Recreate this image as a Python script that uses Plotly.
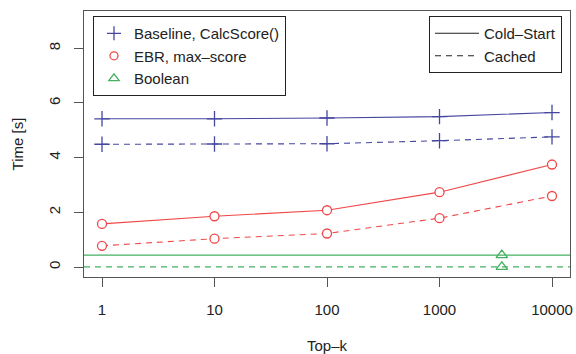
import plotly.graph_objects as go

topk = [1, 10, 100, 1000, 10000]
tick_labels = ["1", "10", "100", "1000", "10000"]
y_ticks = [0, 2, 4, 6, 8]

baseline_cold = [5.42, 5.42, 5.45, 5.50, 5.65]
baseline_cached = [4.49, 4.50, 4.51, 4.62, 4.76]
ebr_cold = [1.58, 1.86, 2.08, 2.74, 3.75]
ebr_cached = [0.78, 1.04, 1.23, 1.79, 2.60]
boolean_k = [3580, 3580]
boolean_vals = [0.44, 0.01]  # cold-start, cached

BLUE = "#4646a0"
RED = "#f04848"
GREEN = "#44b060"
FONT = "Liberation Sans, Arial, Helvetica, sans-serif"
FS = 15
DASH = "6px,5px"

fig = go.Figure()

def series(y, color, symbol, dash, size):
    fill = "white" if symbol != "cross-thin-open" else color
    fig.add_trace(go.Scatter(
        x=topk, y=y, mode="lines+markers", showlegend=False,
        line=dict(color=color, width=1.1, dash=dash),
        marker=dict(symbol=symbol, size=size, color=fill,
                    line=dict(color=color, width=1.3)),
        hoverinfo="skip"))

series(baseline_cold, BLUE, "cross-thin-open", "solid", 11)
series(baseline_cached, BLUE, "cross-thin-open", DASH, 11)
series(ebr_cold, RED, "circle", "solid", 9)
series(ebr_cached, RED, "circle", DASH, 9)

# Boolean: horizontal reference lines across the whole plot plus points
for val, dash in zip(boolean_vals, ["solid", DASH]):
    fig.add_shape(type="line", xref="paper", x0=0, x1=1, yref="y", y0=val, y1=val,
                  line=dict(color=GREEN, width=1.1, dash=dash), layer="below")
fig.add_trace(go.Scatter(
    x=boolean_k, y=boolean_vals, mode="markers", showlegend=False,
    marker=dict(symbol="triangle-up-open", size=10, color=GREEN,
                line=dict(color=GREEN, width=1.3)),
    hoverinfo="skip"))

# Legend 1: algorithms (markers only)
for name, color, sym, size in [("Baseline, CalcScore()", BLUE, "cross-thin-open", 10),
                               ("EBR, max\u2013score", RED, "circle-open", 8),
                               ("Boolean", GREEN, "triangle-up-open", 9)]:
    fig.add_trace(go.Scatter(
        x=[None], y=[None], mode="markers", name=name, legend="legend",
        marker=dict(symbol=sym, size=size, color=color, line=dict(color=color, width=1.3))))

# Legend 2: line styles
for name, dash in [("Cold\u2013Start", "solid"), ("Cached", DASH)]:
    fig.add_trace(go.Scatter(
        x=[None], y=[None], mode="lines", name=name, legend="legend2",
        line=dict(color="#222222", width=1.1, dash=dash)))

axis_common = dict(
    showgrid=False, zeroline=False, showline=True, mirror=True, automargin=False,
    linecolor="#555555", linewidth=1.2, ticks="outside", ticklen=9,
    tickcolor="#555555", tickwidth=1.2,
    tickfont=dict(family=FONT, size=FS, color="#222222"),
)

fig.update_layout(
    width=576, height=354,
    margin=dict(l=84, r=6, t=11, b=77),
    plot_bgcolor="white", paper_bgcolor="white",
    font=dict(family=FONT, size=FS, color="#222222"),
    xaxis=dict(type="log", range=[-0.16, 4.16], tickvals=topk, ticktext=tick_labels,
               ticklabelstandoff=10,
               title=dict(text="Top\u2013k", font=dict(family=FONT, size=FS), standoff=28),
               **axis_common),
    yaxis=dict(range=[-0.36, 9.36], tickvals=y_ticks, tickangle=-90,
               ticklabelstandoff=8,
               title=dict(text="Time [s]", font=dict(family=FONT, size=FS), standoff=18),
               **axis_common),
    legend=dict(x=0.0185, y=0.981, xanchor="left", yanchor="top",
                bordercolor="#222222", borderwidth=1, bgcolor="white",
                font=dict(family=FONT, size=FS), itemwidth=30, tracegroupgap=0),
    legend2=dict(x=0.9835, y=0.981, xanchor="right", yanchor="top",
                 bordercolor="#222222", borderwidth=1, bgcolor="white",
                 font=dict(family=FONT, size=FS), itemwidth=44, tracegroupgap=0),
)

fig.write_html("out.html", post_script="document.body.style.margin='0';",
               config={"displayModeBar": False})
